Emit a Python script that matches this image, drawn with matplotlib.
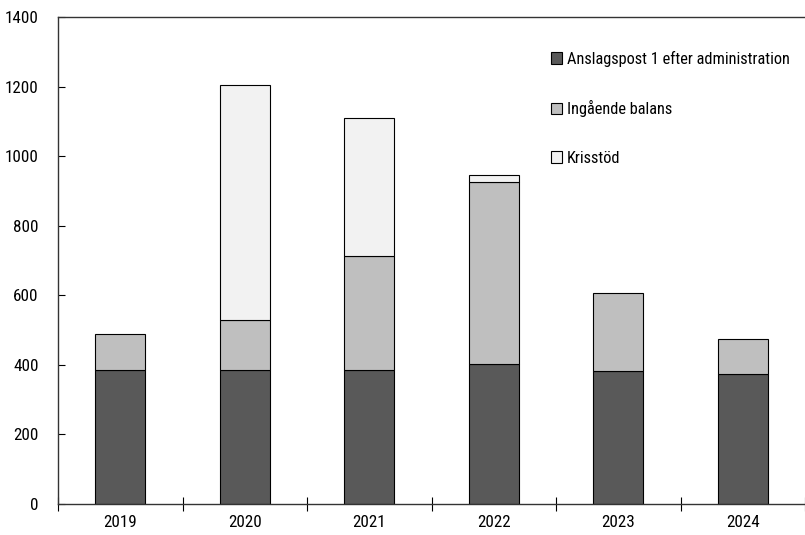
import matplotlib
matplotlib.use("Agg")
import matplotlib.pyplot as plt
from matplotlib import font_manager
import numpy as np

years = ["2019", "2020", "2021", "2022", "2023", "2024"]
anslag = [385, 385, 385, 402, 382, 375]
ingaende = [104, 144, 328, 523, 224, 100]
krisstod = [0, 675, 397, 20, 0, 0]

# pick a narrow font if one is around
names = {f.name for f in font_manager.fontManager.ttflist}
family = "DejaVu Sans"
for cand in ["Liberation Sans Narrow", "DejaVu Sans Condensed", "Roboto Condensed"]:
    if cand in names:
        family = cand
        break
plt.rcParams["font.family"] = family
plt.rcParams["font.size"] = 12.3

fig = plt.figure(figsize=(8.05, 5.35), dpi=100)
ax = fig.add_axes([58 / 805, 31 / 535, 1 - 58 / 805, 487 / 535])

x = np.arange(len(years))
w = 0.4
base2 = np.array(anslag) + np.array(ingaende)
ax.bar(x, anslag, w, color="#595959", edgecolor="black", linewidth=0.8,
       label="Anslagspost 1 efter administration")
ax.bar(x, ingaende, w, bottom=anslag, color="#bfbfbf", edgecolor="black",
       linewidth=0.8, label="Ingående balans")
kx = [i for i in x if krisstod[i] > 0]
ax.bar(kx, [krisstod[i] for i in kx], w, bottom=[base2[i] for i in kx],
       color="#f2f2f2", edgecolor="black", linewidth=0.8, label="Krisstöd")

ax.set_ylim(0, 1400)
ax.set_yticks(np.arange(0, 1401, 200))
ax.set_xlim(-0.5, 5.46)
ax.set_xticks(x)
ax.set_xticklabels(years)
ax.set_xticks(np.arange(-0.5, 5.6, 1), minor=True)
ax.tick_params(axis="x", which="major", length=0, pad=8)
ax.tick_params(axis="x", which="minor", direction="inout", length=10, width=0.8)
ax.tick_params(axis="y", direction="in", length=5, width=0.8, pad=14)
for s in ["left", "bottom", "top"]:
    ax.spines[s].set_linewidth(1.0)
    ax.spines[s].set_color("#333333")
ax.spines["right"].set_visible(False)

ax.legend(loc="upper left", bbox_to_anchor=(544 / 805, 1 - 44 / 535),
          bbox_transform=fig.transFigure, frameon=False, fontsize=11.8,
          handlelength=0.7, handleheight=0.7, handletextpad=0.3,
          labelspacing=2.05, borderaxespad=0)

fig.savefig("out.png", dpi=100)
